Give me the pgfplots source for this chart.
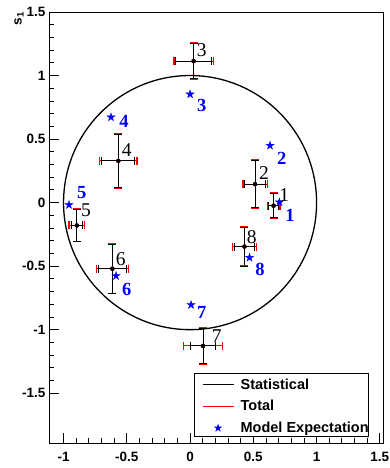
\documentclass[border=0pt]{standalone}
\usepackage{fontspec}
\setmainfont{Liberation Sans}
\newfontfamily\numfont{Liberation Serif}
\usepackage{pgfplots}
\pgfplotsset{compat=1.18}
\usepackage{pgfplotstable}

% filled five-pointed star
\pgfdeclareplotmark{fstar}{%
  \pgfpathmoveto{\pgfpointpolar{90}{\pgfplotmarksize}}%
  \pgfpathlineto{\pgfpointpolar{126}{0.382*\pgfplotmarksize}}%
  \pgfpathlineto{\pgfpointpolar{162}{\pgfplotmarksize}}%
  \pgfpathlineto{\pgfpointpolar{198}{0.382*\pgfplotmarksize}}%
  \pgfpathlineto{\pgfpointpolar{234}{\pgfplotmarksize}}%
  \pgfpathlineto{\pgfpointpolar{270}{0.382*\pgfplotmarksize}}%
  \pgfpathlineto{\pgfpointpolar{306}{\pgfplotmarksize}}%
  \pgfpathlineto{\pgfpointpolar{342}{0.382*\pgfplotmarksize}}%
  \pgfpathlineto{\pgfpointpolar{18}{\pgfplotmarksize}}%
  \pgfpathlineto{\pgfpointpolar{54}{0.382*\pgfplotmarksize}}%
  \pgfpathclose
  \pgfusepathqfillstroke
}

% measured points: x, y, statistical errors, total errors
\pgfplotstableread{
x      y      sxs    sys    sxt    syt
0.660  -0.024 0.040  0.095  0.050  0.100
0.514  0.145  0.082  0.185  0.097  0.190
0.028  1.113  0.140  0.136  0.155  0.142
-0.567 0.328  0.130  0.205  0.147  0.212
-0.895 -0.180 0.045  0.128  0.062  0.128
-0.614 -0.520 0.110  0.192  0.125  0.197
0.102  -1.128 0.102  0.136  0.152  0.142
0.430  -0.346 0.080  0.153  0.096  0.153
}\meas

\pgfplotstableread{
x      y      lab
0.745  0.061  1
0.585  0.234  2
0.092  1.202  3
-0.500 0.415  4
-0.822 -0.057 5
-0.548 -0.446 6
0.211  -1.050 7
0.488  -0.268 8
}\measlab

% model expectation
\pgfplotstableread{
x      y
0.706  0.003
0.632  0.449
0.000  0.853
-0.625 0.672
-0.957 -0.018
-0.585 -0.577
0.008  -0.805
0.470  -0.433
}\model

\pgfplotstableread{
x      y      lab
0.790  -0.097 1
0.725  0.350  2
0.092  0.761  3
-0.522 0.638  4
-0.856 0.079  5
-0.500 -0.687 6
0.092  -0.866 7
0.553  -0.524 8
}\modlab

\begin{document}
\begin{tikzpicture}
\begin{axis}[
  scale only axis,
  width=334pt, height=431pt,
  xmin=-1.115, xmax=1.525,
  ymin=-1.892, ymax=1.5,
  xtick={-1,-0.5,0,0.5,1,1.5},
  ytick={-1.5,-1,-0.5,0,0.5,1,1.5},
  minor tick num=4,
  xtick pos=bottom, ytick pos=left,
  tick align=inside,
  major tick length=10pt, minor tick length=5pt,
  tick style={black, line width=0.8pt},
  axis line style={black, line width=0.9pt},
  /pgf/number format/assume math mode=true,
  ticklabel style={font=\bfseries\fontsize{13.5}{14}\selectfont},
  xticklabel style={yshift=-6pt},
  clip=false,
  legend style={
    at={(rel axis cs:0.434,0.014)}, anchor=south west,
    draw=black, line width=0.9pt, fill=white,
    inner xsep=0pt, inner ysep=0pt,
    row sep=2.4pt, column sep=6.6pt,
    font=\bfseries\fontsize{14.5}{15}\selectfont,
    nodes={inner xsep=0pt, inner ysep=0pt, text height=15.3pt, text depth=4pt},
  },
  legend cell align=left,
]
% unit circle
\draw[black, line width=1.3pt] (axis cs:0,0) ellipse [x radius=1, y radius=1];

% total uncertainties
\addplot[red, only marks, mark=none, forget plot,
  error bars/.cd, x dir=both, x explicit, y dir=both, y explicit,
  error bar style={red, line width=0.9pt},
  error mark=-, error mark options={rotate=90, red, mark size=4pt, line width=1.4pt}]
  table[x=x, y=y, x error=sxt, y error=syt] {\meas};

% statistical uncertainties
\addplot[black, only marks, mark=*, mark size=2pt, forget plot,
  error bars/.cd, x dir=both, x explicit, y dir=both, y explicit,
  error bar style={black, line width=0.9pt},
  error mark=-, error mark options={rotate=90, black, mark size=4pt, line width=0.9pt}]
  table[x=x, y=y, x error=sxs, y error=sys] {\meas};

% model expectation
\addplot[blue, only marks, mark=fstar, mark size=4.2pt, forget plot]
  table[x=x, y=y] {\model};

% point numbers
\addplot[only marks, mark=none, forget plot,
  nodes near coords, point meta=explicit symbolic,
  every node near coord/.append style={anchor=center, text=black, inner sep=0pt,
    font=\numfont\fontsize{19.5}{19.5}\selectfont}]
  table[x=x, y=y, meta=lab] {\measlab};
\addplot[only marks, mark=none, forget plot,
  nodes near coords, point meta=explicit symbolic,
  every node near coord/.append style={anchor=center, text=blue, inner sep=0pt,
    font=\numfont\bfseries\fontsize{18.5}{18.5}\selectfont}]
  table[x=x, y=y, meta=lab] {\modlab};

\addlegendimage{legend image code/.code={
  \path (0pt,0pt); \draw[black, line width=0.8pt] (7.7pt,-1.2pt) -- (38.7pt,-1.2pt);}}
\addlegendentry{Statistical}
\addlegendimage{legend image code/.code={
  \path (0pt,0pt); \draw[red, line width=0.8pt] (7.7pt,-1.2pt) -- (38.7pt,-1.2pt);}}
\addlegendentry{Total}
\addlegendimage{legend image code/.code={
  \path (0pt,0pt) (38.7pt,0pt);
  \fill[blue] plot[mark=fstar, mark size=3pt] coordinates {(23.2pt,-1.2pt)};}}
\addlegendentry{Model Expectation}
\end{axis}
% axis title, rotated, at the top of the vertical axis
\node[rotate=90, anchor=east, inner sep=0pt, font=\bfseries\fontsize{13.5}{14}\selectfont]
  at ([xshift=-30pt]current axis.north west) {s\textsubscript{1}};
\pgfresetboundingbox
\path[use as bounding box] ([shift={(-49pt,-25pt)}]current axis.south west)
  rectangle ([shift={(6pt,12pt)}]current axis.north east);
\end{tikzpicture}
\end{document}
